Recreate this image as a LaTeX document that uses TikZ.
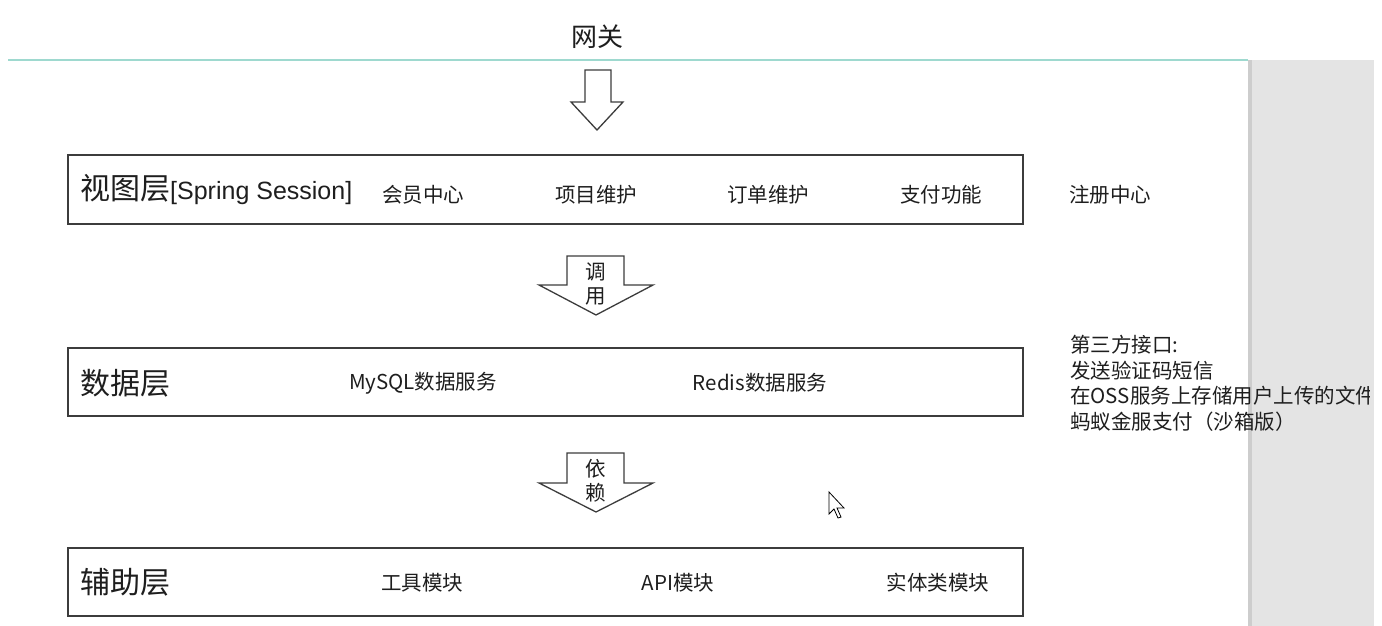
\documentclass[tikz,border=0pt]{standalone}
\usepackage{fontspec}
\setmainfont{Noto Sans CJK SC}
\newfontfamily\latinfont{Liberation Sans}
\usetikzlibrary{positioning}
\definecolor{boxline}{HTML}{3C3C3C}
\definecolor{panel}{HTML}{E4E4E4}
\definecolor{panelshade}{HTML}{CDCDCD}
\definecolor{tealline}{HTML}{9ED9CF}
\definecolor{txt}{HTML}{1E1E1E}
\tikzset{
  layer/.style={draw=boxline, line width=1.4pt, fill=white},
  blockarrow/.style={draw=boxline, line width=1.3pt, fill=white, line join=miter},
  big/.style={font=\fontsize{30}{32}\selectfont, text=txt, inner sep=0pt},
  small/.style={font=\fontsize{20.5}{23}\selectfont, text=txt, inner sep=0pt},
  side/.style={font=\fontsize{20.5}{25.7}\selectfont, text=txt, inner sep=0pt, align=left},
}
\begin{document}
\begin{tikzpicture}[x=1pt,y=-1pt]
\useasboundingbox (0,0) rectangle (1382,626);
\fill[white] (0,0) rectangle (1382,626);
% gray side panel
\fill[panel] (1248,60) rectangle (1374,626);
\fill[panelshade] (1248,60) rectangle (1252,626);
% teal line
\draw[tealline, line width=1.2pt] (8,60) -- (1248,60);
% title
\node[big, font=\fontsize{26}{28}\selectfont] (gw) at (597,37) {网关};
% arrow 1
\draw[blockarrow] (585,70) -- (611,70) -- (611,102) -- (623,102) -- (597,130) -- (571,102) -- (585,102) -- cycle;
% boxes
\draw[layer] (68,155) rectangle (1023,224);
\draw[layer] (68,348) rectangle (1023,416);
\draw[layer] (68,548) rectangle (1023,616);
% arrow 2
\draw[blockarrow] (567,256) -- (624,256) -- (624,285) -- (653,285) -- (596,315) -- (539,285) -- (567,285) -- cycle;
\node[small] (a2a) at (596,272) {调};
\node[small] (a2b) at (596,296) {用};
% arrow 3
\draw[blockarrow] (567,453) -- (624,453) -- (624,483) -- (653,483) -- (596,512) -- (539,483) -- (567,483) -- cycle;
\node[small] (a3a) at (596,469) {依};
\node[small] (a3b) at (596,493) {赖};
% layer 1
\node[big, anchor=west] (v) at (80,190) {视图层{\latinfont\fontsize{25}{28}\selectfont[Spring Session]}};
\node[small] (v1) at (423,195) {会员中心};
\node[small] (v2) at (596,195) {项目维护};
\node[small] (v3) at (768,195) {订单维护};
\node[small] (v4) at (941,195) {支付功能};
\node[small] (reg) at (1110,195) {注册中心};
% layer 2
\node[big, anchor=west] (d) at (80,383) {数据层};
\node[small] (d1) at (423,383) {MySQL数据服务};
\node[small] (d2) at (760,383) {Redis数据服务};
% layer 3
\node[big, anchor=west] (f) at (80,582) {辅助层};
\node[small] (f1) at (422,583) {工具模块};
\node[small] (f2) at (678,583) {API模块};
\node[small] (f3) at (938,583) {实体类模块};
% side text
\begin{scope}
\clip (1000,320) rectangle (1369,440);
\node[side, anchor=north west] (api) at (1070,335) {第三方接口:\\发送验证码短信\\在OSS服务上存储用户上传的文件\\蚂蚁金服支付（沙箱版）};
\end{scope}
% cursor
\draw[fill=white, draw=black, line width=0.8pt, line join=miter] (829,492) -- (829,514) -- (834,509) -- (838,518) -- (841,517) -- (837,508) -- (844,508) -- cycle;
\end{tikzpicture}
\end{document}
